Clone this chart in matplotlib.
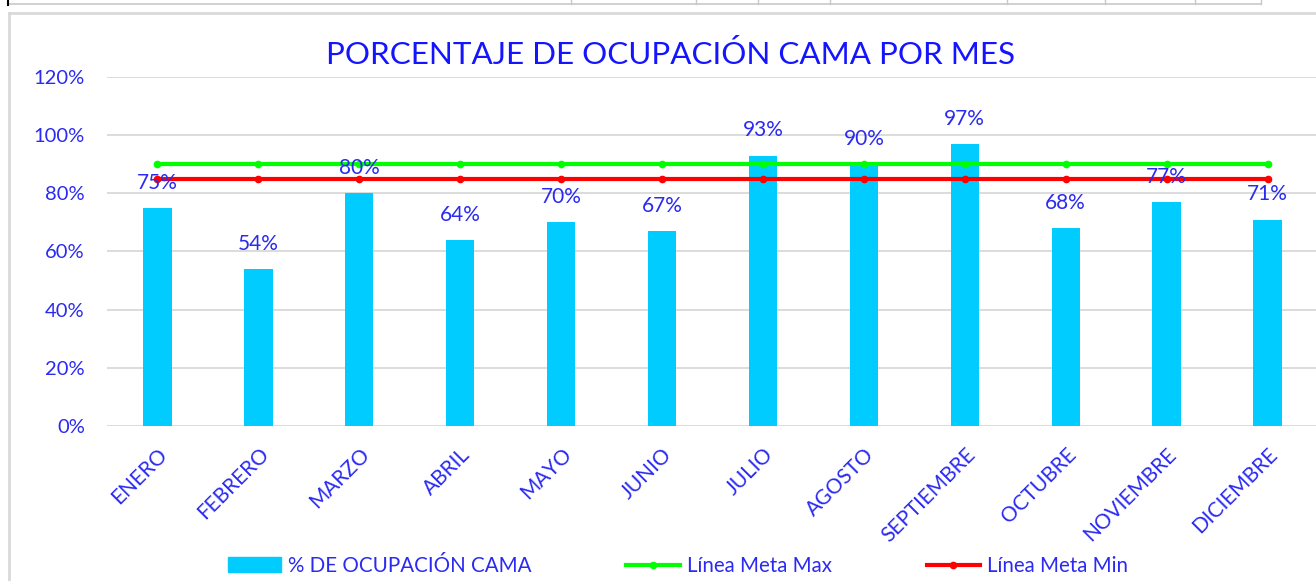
#!/usr/bin/python
# -*- coding: utf-8 -*-
##########################################################################################
# bed occupancy per month, with max / min target lines
##########################################################################################

import numpy as np
import matplotlib as mpl
from matplotlib import pyplot as plt
from matplotlib.lines import Line2D
from matplotlib.ticker import FuncFormatter

##########################################################################################
# data
meses = ['ENERO', 'FEBRERO', 'MARZO', 'ABRIL', 'MAYO', 'JUNIO', 'JULIO',
         'AGOSTO', 'SEPTIEMBRE', 'OCTUBRE', 'NOVIEMBRE', 'DICIEMBRE']
ocupacion = [75, 54, 80, 64, 70, 67, 93, 90, 97, 68, 77, 71]   # percent
metaMax = [90] * 12
metaMin = [85] * 12
yTicks = [0, 20, 40, 60, 80, 100, 120]

W, H = 1316, 581   # output size in px (dpi = 100)

cBar = '#00CCFF'
cMax = '#00FF00'
cMin = '#FF0000'
cText = '#2A2AF2'
cTitle = '#1414FF'
cGrid = '#D9D9D9'

def fx(x):
    return x / W

def fy(y):
    return 1.0 - y / H

def Plot(outname):

    mpl.rcParams['font.family'] = ['Lato', 'DejaVu Sans']
    mpl.rc('font', **{'size': 14})

    f = plt.figure(figsize = (W / 100.0, H / 100.0), dpi = 100)
    f.patch.set_facecolor('white')

    # axes spans from the 0 % line up to the 120 % line
    ax1 = f.add_axes([fx(107), fy(426), fx(1318 - 107), fy(77) - fy(426)])

    x = np.arange(len(meses))
    vals = np.array(ocupacion) / 100.0

    ######################################################################################
    # bars + target lines
    ax1.bar(x, vals, width = 0.28, color = cBar, zorder = 2)

    ax1.plot(x, np.array(metaMax) / 100.0, color = cMax, lw = 3.0,
             marker = 'o', ms = 4.5, zorder = 3, label = 'Línea Meta Max')
    ax1.plot(x, np.array(metaMin) / 100.0, color = cMin, lw = 3.0,
             marker = 'o', ms = 4.5, zorder = 3, label = 'Línea Meta Min')

    # value labels on top of bars
    for xi, v in zip(x, ocupacion):
        ax1.annotate('%d%%' % v,
                     xy = (xi, v / 100.0),
                     xycoords = 'data',
                     xytext = (0, 11),
                     textcoords = 'offset points',
                     ha = 'center', va = 'bottom',
                     fontsize = 15, color = cText,
                     zorder = 5)

    ######################################################################################
    # axes styling
    ax1.set_xlim(-0.5, len(meses) - 0.5)
    ax1.set_ylim(0.0, 1.2)
    ax1.set_yticks(np.array(yTicks) / 100.0)
    ax1.yaxis.set_major_formatter(FuncFormatter(lambda v, p: '%d%%' % round(v * 100)))
    ax1.grid(axis = 'y', color = cGrid, lw = 1.3, zorder = 0)
    ax1.set_axisbelow(True)
    for s in ax1.spines.values():
        s.set_visible(False)

    ax1.tick_params(axis = 'y', length = 0, pad = 16, labelsize = 14.5, labelcolor = cText)
    ax1.tick_params(axis = 'x', length = 0, pad = 13, labelsize = 15, labelcolor = cText)
    ax1.set_xticks(x)
    ax1.set_xticklabels(meses, rotation = 45, ha = 'right', rotation_mode = 'anchor')

    ######################################################################################
    # title
    f.text(fx(670), fy(55), 'PORCENTAJE DE OCUPACIÓN CAMA POR MES',
           ha = 'center', va = 'center', fontsize = 22.6, color = cTitle)

    # legend
    hBar = mpl.patches.Patch(color = cBar, label = '% DE OCUPACIÓN CAMA')
    hMax = Line2D([], [], color = cMax, lw = 3.0, marker = 'o', ms = 4.5,
                  label = 'Línea Meta Max')
    hMin = Line2D([], [], color = cMin, lw = 3.0, marker = 'o', ms = 4.5,
                  label = 'Línea Meta Min')
    leg = f.legend(handles = [hBar, hMax, hMin],
                   loc = 'center', bbox_to_anchor = (fx(678), fy(566)),
                   ncol = 3, frameon = False,
                   handlelength = 2.6, handleheight = 0.75,
                   handletextpad = 0.35, columnspacing = 4.6,
                   fontsize = 14.8)
    for t in leg.get_texts():
        t.set_color(cText)

    ######################################################################################
    # chart frame and the sheet row above it
    def hline(y, x0, x1, c, lw):
        f.add_artist(Line2D([fx(x0), fx(x1)], [fy(y), fy(y)], color = c, lw = lw,
                            transform = f.transFigure))

    def vline(x, y0, y1, c, lw):
        f.add_artist(Line2D([fx(x), fx(x)], [fy(y0), fy(y1)], color = c, lw = lw,
                            transform = f.transFigure))

    hline(4, 8, 1261, '#C8C8C8', 1.2)
    vline(8, 0, 5, '#000000', 1.5)
    for xs in [571, 696, 758, 830, 1007, 1105, 1195, 1261]:
        vline(xs, 0, 4, '#C8C8C8', 1.0)

    hline(13, 9, W, '#D9D9D9', 2.0)
    vline(9, 13, H, '#D9D9D9', 2.0)

    ######################################################################################
    f.savefig(outname, dpi = 100, facecolor = 'white')
    plt.close()
    return None

if __name__ == '__main__':

    Plot('out.png')
